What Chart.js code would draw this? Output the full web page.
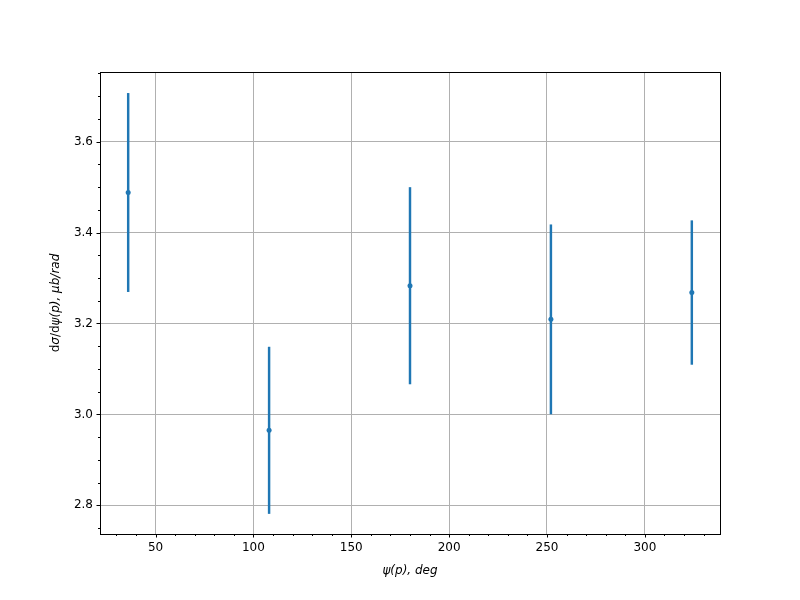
<!DOCTYPE html>
<html>
<head>
<meta charset="utf-8">
<script src="https://cdn.jsdelivr.net/npm/chart.js@4.4.0/dist/chart.umd.min.js"></script>
<style>
  body { margin: 0; background: #fff; }
  #wrap { width: 800px; height: 600px; }
</style>
</head>
<body>
<div id="wrap"><canvas id="errChart" width="800" height="600"></canvas></div>
<script>
// data
const psiValues = [36, 108, 180, 252, 324];
const sigmaValues = [3.488, 2.965, 3.283, 3.209, 3.268];
const sigmaErrors = [0.218, 0.183, 0.216, 0.208, 0.158];

// axis ticks
const xMajorTicks = [50, 100, 150, 200, 250, 300];
const yMajorTicks = [2.8, 3.0, 3.2, 3.4, 3.6];
const xMinorStep = 10;
const yMinorStep = 0.05;

// y label pieces: [text, italic?]
const yLabelParts = [['d', false], ['σ', true], ['/d', false], ['ψ(p), μb/rad', true]];

const blue = '#1f77b4';
const gridGrey = '#b0b0b0';

// matplotlib style 5% margins
const xMin = 21.6, xMax = 338.4;
const yMin = 2.737, yMax = 3.753;

function buildTicks(min, max, step) {
    const out = [];
    const start = Math.ceil(min / step - 1e-9);
    const end = Math.floor(max / step + 1e-9);
    for (let i = start; i <= end; i++) {
        out.push(Math.round(i * step * 1000) / 1000);
    }
    return out;
}

function isMajor(value, majors) {
    return majors.some(m => Math.abs(m - value) < 1e-6);
}

// frame, major/minor tick marks and the mixed-style y label
const framePlugin = {
    id: 'frame',
    afterDraw(chart) {
        const ctx = chart.ctx;
        const area = chart.chartArea;
        const xs = chart.scales.x;
        const ys = chart.scales.y;
        ctx.save();
        ctx.strokeStyle = '#000';
        ctx.lineWidth = 1;

        xs.ticks.forEach(t => {
            const len = isMajor(t.value, xMajorTicks) ? 3.5 : 2;
            const px = Math.round(xs.getPixelForValue(t.value)) + 0.5;
            ctx.beginPath();
            ctx.moveTo(px, area.bottom);
            ctx.lineTo(px, area.bottom + len);
            ctx.stroke();
        });
        ys.ticks.forEach(t => {
            const len = isMajor(t.value, yMajorTicks) ? 3.5 : 2;
            const py = Math.round(ys.getPixelForValue(t.value)) + 0.5;
            ctx.beginPath();
            ctx.moveTo(area.left, py);
            ctx.lineTo(area.left - len, py);
            ctx.stroke();
        });

        ctx.strokeRect(Math.round(area.left) + 0.5, Math.round(area.top) + 0.5,
            Math.round(area.right - area.left), Math.round(area.bottom - area.top));

        // y axis label
        const fontFor = it => (it ? 'italic ' : '') + '12px "DejaVu Sans"';
        let total = 0;
        yLabelParts.forEach(p => { ctx.font = fontFor(p[1]); total += ctx.measureText(p[0]).width; });
        ctx.translate(56, (area.top + area.bottom) / 2);
        ctx.rotate(-Math.PI / 2);
        ctx.fillStyle = '#000';
        ctx.textBaseline = 'middle';
        ctx.textAlign = 'left';
        let pos = -total / 2;
        yLabelParts.forEach(p => {
            ctx.font = fontFor(p[1]);
            ctx.fillText(p[0], pos, 0);
            pos += ctx.measureText(p[0]).width;
        });
        ctx.restore();
    }
};

const ctxChart = document.getElementById('errChart');
new Chart(ctxChart, {
    type: 'bar',
    data: {
        datasets: [
            {
                type: 'scatter',
                data: psiValues.map((x, i) => ({ x: x, y: sigmaValues[i] })),
                backgroundColor: blue,
                borderColor: blue,
                pointRadius: 2.5,
                borderWidth: 0,
                order: 0
            },
            {
                type: 'bar',
                data: psiValues.map((x, i) => ({ x: x, y: [sigmaValues[i] - sigmaErrors[i], sigmaValues[i] + sigmaErrors[i]] })),
                backgroundColor: blue,
                borderWidth: 0,
                barThickness: 1.8,
                order: 1
            }
        ]
    },
    plugins: [framePlugin],
    options: {
        responsive: false,
        animation: false,
        layout: {
            padding: { left: 0, top: 72, right: 80, bottom: 0 }
        },
        scales: {
            x: {
                type: 'linear',
                min: xMin,
                max: xMax,
                offset: false,
                afterBuildTicks: axis => {
                    axis.ticks = buildTicks(xMin, xMax, xMinorStep).map(v => ({ value: v }));
                },
                afterFit: axis => { axis.height = 66; },
                grid: {
                    offset: false,
                    color: c => (c.tick && isMajor(c.tick.value, xMajorTicks)) ? gridGrey : 'rgba(0,0,0,0)',
                    lineWidth: 1,
                    drawTicks: false
                },
                border: { display: false },
                ticks: {
                    autoSkip: false,
                    maxRotation: 0,
                    padding: 7,
                    color: '#000',
                    font: { family: 'DejaVu Sans', size: 12 },
                    callback: v => isMajor(v, xMajorTicks) ? String(v) : ''
                },
                title: {
                    display: true,
                    text: 'ψ(p), deg',
                    color: '#000',
                    padding: { top: 0, bottom: 22 },
                    font: { family: 'DejaVu Sans', size: 12, style: 'italic' }
                }
            },
            y: {
                type: 'linear',
                min: yMin,
                max: yMax,
                afterBuildTicks: axis => {
                    axis.ticks = buildTicks(yMin, yMax, yMinorStep).map(v => ({ value: v }));
                },
                afterFit: axis => { axis.width = 100; },
                grid: {
                    color: c => (c.tick && isMajor(c.tick.value, yMajorTicks)) ? gridGrey : 'rgba(0,0,0,0)',
                    lineWidth: 1,
                    drawTicks: false
                },
                border: { display: false },
                ticks: {
                    autoSkip: false,
                    padding: 7,
                    color: '#000',
                    font: { family: 'DejaVu Sans', size: 12 },
                    callback: v => isMajor(v, yMajorTicks) ? v.toFixed(1) : ''
                },
                title: { display: false }
            }
        },
        plugins: {
            legend: { display: false },
            tooltip: { enabled: false }
        }
    }
});
</script>
</body>
</html>
